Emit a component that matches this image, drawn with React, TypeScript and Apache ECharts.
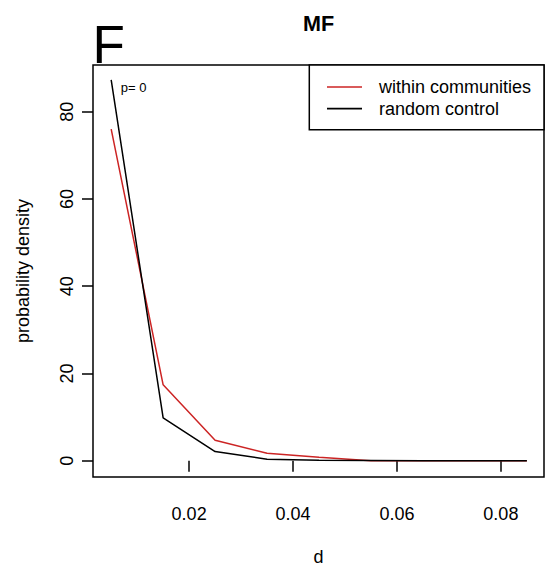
import React, { useEffect, useRef } from "react";
import * as echarts from "echarts";

const dValues = [0.005, 0.015, 0.025, 0.035, 0.045, 0.055, 0.065, 0.075, 0.085];
const withinCommunities = [76.0, 17.4, 4.7, 1.7, 0.8, 0, 0, 0, 0];
const randomControl = [87.3, 9.8, 2.1, 0.35, 0.12, 0.04, 0, 0, 0];
const xTicks = [0.02, 0.04, 0.06, 0.08];
const yTicks = [0, 20, 40, 60, 80];
const seriesNames = ["within communities", "random control"];
const seriesColors = ["#cc2424", "#000000"];
const panelLetter = "F";
const titleText = "MF";
const pText = "p= 0";

const FONT = '"Liberation Sans", Arial, Helvetica, sans-serif';

export default function App() {
  const ref = useRef<HTMLDivElement>(null);
  useEffect(() => {
    if (!ref.current) return;
    const chart = echarts.init(ref.current, null, { renderer: "svg" });
    const mk = (vals: number[]) => dValues.map((d, i) => [d, vals[i]]);
    chart.setOption({
      animation: false,
      backgroundColor: "#ffffff",
      color: seriesColors,
      title: {
        text: titleText,
        left: 318.5,
        top: 12,
        padding: 0,
        textAlign: "center",
        textStyle: { fontSize: 21.6, fontWeight: "bold", color: "#000", fontFamily: FONT },
      },
      grid: {
        left: 93,
        right: 9,
        top: 65,
        bottom: 90,
        show: true,
        borderColor: "#000",
        borderWidth: 1.5,
        backgroundColor: "transparent",
        outerBoundsMode: "none",
      },
      legend: {
        orient: "vertical",
        left: 327,
        top: 78,
        padding: 0,
        itemWidth: 35,
        itemHeight: 1.6,
        itemGap: 3.6,
        selectedMode: false,
        data: seriesNames.map((name) => ({ name, icon: "rect" })),
        textStyle: { fontSize: 18, lineHeight: 18, color: "#000", fontFamily: FONT, padding: [0, 0, 0, 12] },
      },
      xAxis: {
        type: "value",
        min: 0.0015,
        max: 0.0883,
        axisLine: { show: false },
        splitLine: { show: false },
        axisTick: { show: true, customValues: xTicks, length: 11, lineStyle: { color: "#000", width: 1.5 } },
        axisLabel: {
          customValues: xTicks,
          formatter: (v: number) => v.toFixed(2),
          fontSize: 18,
          color: "#000",
          margin: 28,
          fontFamily: FONT,
        },
        name: "d",
        nameLocation: "middle",
        nameGap: 71,
        nameTextStyle: { fontSize: 18, color: "#000", fontFamily: FONT },
      },
      yAxis: {
        type: "value",
        min: -3.74,
        max: 90.7,
        axisLine: { show: false },
        splitLine: { show: false },
        axisTick: { show: true, customValues: yTicks, length: 11, lineStyle: { color: "#000", width: 1.5 } },
        axisLabel: {
          customValues: yTicks,
          formatter: (v: number) => String(v),
          rotate: 90,
          fontSize: 18,
          color: "#000",
          margin: 17,
          fontFamily: FONT,
        },
        name: "probability density",
        nameLocation: "middle",
        nameGap: 61,
        nameTextStyle: { fontSize: 18, color: "#000", fontFamily: FONT },
      },
      graphic: [
        {
          type: "rect",
          shape: { x: 309.3, y: 65, width: 234.7, height: 64.8 },
          style: { fill: "#fff", stroke: "#000", lineWidth: 1.5 },
          z: 1,
        },
        {
          type: "text",
          x: 92.5,
          y: 44,
          style: { text: panelLetter, fontSize: 53, fontFamily: FONT, fill: "#000", verticalAlign: "middle", align: "left" },
        },
        {
          type: "text",
          x: 120.7,
          y: 87,
          style: { text: pText, fontSize: 13, fontFamily: FONT, fill: "#000", verticalAlign: "middle", align: "left" },
        },
      ],
      series: [
        {
          name: seriesNames[0],
          type: "line",
          data: mk(withinCommunities),
          symbol: "none",
          lineStyle: { width: 1.5, color: seriesColors[0] },
          itemStyle: { color: seriesColors[0] },
          z: 3,
        },
        {
          name: seriesNames[1],
          type: "line",
          data: mk(randomControl),
          symbol: "none",
          lineStyle: { width: 1.5, color: seriesColors[1] },
          itemStyle: { color: seriesColors[1] },
          z: 4,
        },
      ],
    });
    return () => chart.dispose();
  }, []);
  return (
    <div
      ref={ref}
      style={{ position: "fixed", left: 0, top: 0, width: 553, height: 567, background: "#fff" }}
    />
  );
}
